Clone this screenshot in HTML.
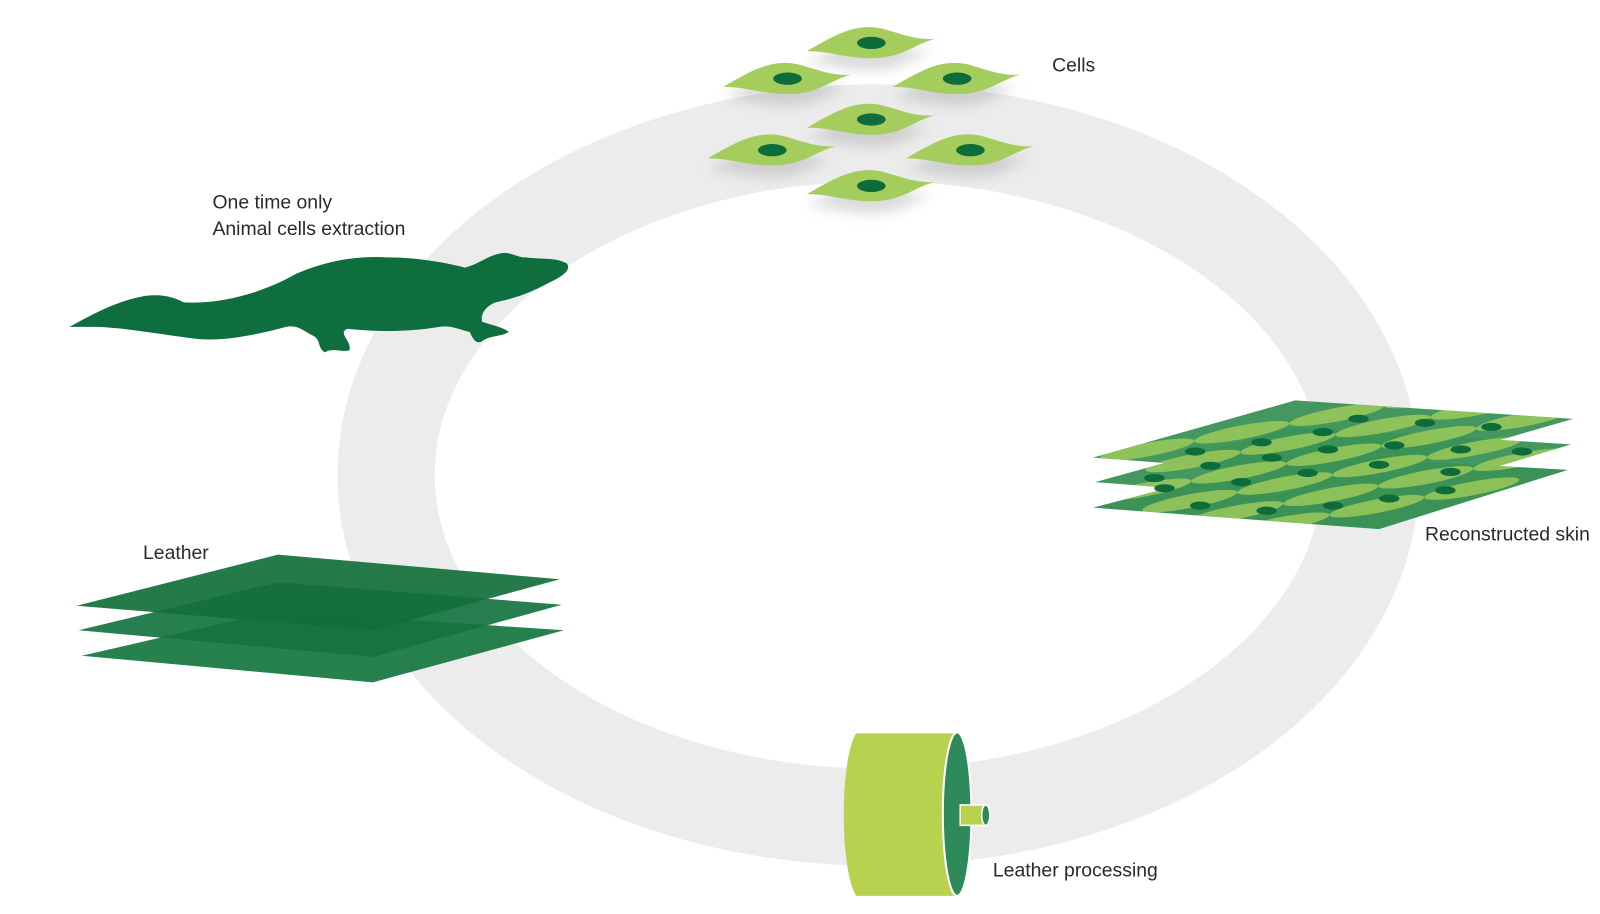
<!DOCTYPE html>
<html><head><meta charset="utf-8"><style>
body{margin:0;background:#fff;width:1600px;height:909px;overflow:hidden}
svg text{font-family:"Liberation Sans",sans-serif;font-size:19px;fill:#2a2a2a}
</style></head><body>
<svg width="1600" height="909" viewBox="0 0 1600 909">
<defs>
<filter id="sh" x="-50%" y="-50%" width="200%" height="250%"><feGaussianBlur stdDeviation="6"/></filter>
<clipPath id="sk"><path d="M1070,448 L1268,392 L1540,410 L1340,468 Z M1072,472 L1268,418 L1538,435 L1345,493 Z M1070,497 L1270,445 L1535,460 L1350,518 Z"/></clipPath>
</defs>
<g transform="scale(1.0215)">
<ellipse cx="860" cy="465" rx="482" ry="335" fill="none" stroke="#ececec" stroke-width="95"/>
<g>
<g transform="translate(853,42)"><path d="M-63,8 C-40,-5 -20,-18 5,-15 C20,-13 40,-2 62,-4 C40,2 30,15 0,15 C-25,15 -40,8 -63,8 Z" fill="#999" opacity=".35" filter="url(#sh)" transform="translate(0,12)"/><path d="M-63,8 C-40,-5 -20,-18 5,-15 C20,-13 40,-2 62,-4 C40,2 30,15 0,15 C-25,15 -40,8 -63,8 Z" fill="#a5cd5e"/><ellipse rx="14" ry="6" fill="#0e6b3a"/></g>
<g transform="translate(771,77)"><path d="M-63,8 C-40,-5 -20,-18 5,-15 C20,-13 40,-2 62,-4 C40,2 30,15 0,15 C-25,15 -40,8 -63,8 Z" fill="#999" opacity=".35" filter="url(#sh)" transform="translate(0,12)"/><path d="M-63,8 C-40,-5 -20,-18 5,-15 C20,-13 40,-2 62,-4 C40,2 30,15 0,15 C-25,15 -40,8 -63,8 Z" fill="#a5cd5e"/><ellipse rx="14" ry="6" fill="#0e6b3a"/></g>
<g transform="translate(937,77)"><path d="M-63,8 C-40,-5 -20,-18 5,-15 C20,-13 40,-2 62,-4 C40,2 30,15 0,15 C-25,15 -40,8 -63,8 Z" fill="#999" opacity=".35" filter="url(#sh)" transform="translate(0,12)"/><path d="M-63,8 C-40,-5 -20,-18 5,-15 C20,-13 40,-2 62,-4 C40,2 30,15 0,15 C-25,15 -40,8 -63,8 Z" fill="#a5cd5e"/><ellipse rx="14" ry="6" fill="#0e6b3a"/></g>
<g transform="translate(853,117)"><path d="M-63,8 C-40,-5 -20,-18 5,-15 C20,-13 40,-2 62,-4 C40,2 30,15 0,15 C-25,15 -40,8 -63,8 Z" fill="#999" opacity=".35" filter="url(#sh)" transform="translate(0,12)"/><path d="M-63,8 C-40,-5 -20,-18 5,-15 C20,-13 40,-2 62,-4 C40,2 30,15 0,15 C-25,15 -40,8 -63,8 Z" fill="#a5cd5e"/><ellipse rx="14" ry="6" fill="#0e6b3a"/></g>
<g transform="translate(756,147)"><path d="M-63,8 C-40,-5 -20,-18 5,-15 C20,-13 40,-2 62,-4 C40,2 30,15 0,15 C-25,15 -40,8 -63,8 Z" fill="#999" opacity=".35" filter="url(#sh)" transform="translate(0,12)"/><path d="M-63,8 C-40,-5 -20,-18 5,-15 C20,-13 40,-2 62,-4 C40,2 30,15 0,15 C-25,15 -40,8 -63,8 Z" fill="#a5cd5e"/><ellipse rx="14" ry="6" fill="#0e6b3a"/></g>
<g transform="translate(950,147)"><path d="M-63,8 C-40,-5 -20,-18 5,-15 C20,-13 40,-2 62,-4 C40,2 30,15 0,15 C-25,15 -40,8 -63,8 Z" fill="#999" opacity=".35" filter="url(#sh)" transform="translate(0,12)"/><path d="M-63,8 C-40,-5 -20,-18 5,-15 C20,-13 40,-2 62,-4 C40,2 30,15 0,15 C-25,15 -40,8 -63,8 Z" fill="#a5cd5e"/><ellipse rx="14" ry="6" fill="#0e6b3a"/></g>
<g transform="translate(853,182)"><path d="M-63,8 C-40,-5 -20,-18 5,-15 C20,-13 40,-2 62,-4 C40,2 30,15 0,15 C-25,15 -40,8 -63,8 Z" fill="#999" opacity=".35" filter="url(#sh)" transform="translate(0,12)"/><path d="M-63,8 C-40,-5 -20,-18 5,-15 C20,-13 40,-2 62,-4 C40,2 30,15 0,15 C-25,15 -40,8 -63,8 Z" fill="#a5cd5e"/><ellipse rx="14" ry="6" fill="#0e6b3a"/></g>
</g>
<path d="M68,320 C95,305 115,295 140,290 C160,287 172,292 180,296 C220,298 260,285 290,268 C320,255 350,250 380,252 C410,252 440,258 455,262 C470,258 478,250 490,248 C500,246 505,252 515,252 C530,254 545,252 555,258 C560,265 548,272 535,278 C520,286 505,292 485,296 C475,300 470,308 472,315 C480,318 492,320 498,325 C490,330 480,328 472,334 C466,338 462,330 460,325 C448,322 440,318 430,320 C400,325 370,325 340,322 C330,326 345,334 342,343 C335,345 325,340 318,345 C310,340 315,332 305,328 C295,322 290,318 280,320 C250,328 220,334 195,332 C160,328 120,320 90,320 Z" fill="#0f6e3e"/>
<path d="M80,642 L270,598 L552,617 L365,668 Z" fill="#1a7a44" opacity=".95"/>
<path d="M77,617 L272,570 L550,592 L365,643 Z" fill="#157340" opacity=".92"/>
<path d="M75,593 L272,543 L548,567 L365,617 Z" fill="#126f3b" opacity=".92"/>
<path d="M1070,497 L1270,445 L1535,460 L1350,518 Z" fill="#3a9256"/>
<path d="M1072,472 L1268,418 L1538,435 L1345,493 Z" fill="#3a9256" opacity=".95"/>
<path d="M1070,448 L1268,392 L1540,410 L1340,468 Z" fill="#3a9256" opacity=".95"/>
<g clip-path="url(#sk)" fill="#9cc95a" opacity=".85">
<g transform="translate(1305,455) skewX(-15) rotate(-11)">
<ellipse cx="-180" cy="-50" rx="45" ry="7"/><ellipse cx="-90" cy="-50" rx="45" ry="7"/><ellipse cx="0" cy="-50" rx="45" ry="7"/><ellipse cx="90" cy="-50" rx="45" ry="7"/><ellipse cx="180" cy="-50" rx="45" ry="7"/>
<ellipse cx="-135" cy="-30" rx="45" ry="7"/><ellipse cx="-45" cy="-30" rx="45" ry="7"/><ellipse cx="45" cy="-30" rx="45" ry="7"/><ellipse cx="135" cy="-30" rx="45" ry="7"/>
<ellipse cx="-180" cy="-10" rx="45" ry="7"/><ellipse cx="-90" cy="-10" rx="45" ry="7"/><ellipse cx="0" cy="-10" rx="45" ry="7"/><ellipse cx="90" cy="-10" rx="45" ry="7"/><ellipse cx="180" cy="-10" rx="45" ry="7"/>
<ellipse cx="-135" cy="10" rx="45" ry="7"/><ellipse cx="-45" cy="10" rx="45" ry="7"/><ellipse cx="45" cy="10" rx="45" ry="7"/><ellipse cx="135" cy="10" rx="45" ry="7"/>
<ellipse cx="-180" cy="30" rx="45" ry="7"/><ellipse cx="-90" cy="30" rx="45" ry="7"/><ellipse cx="0" cy="30" rx="45" ry="7"/><ellipse cx="90" cy="30" rx="45" ry="7"/><ellipse cx="180" cy="30" rx="45" ry="7"/>
<ellipse cx="-135" cy="50" rx="45" ry="7"/><ellipse cx="-45" cy="50" rx="45" ry="7"/><ellipse cx="45" cy="50" rx="45" ry="7"/><ellipse cx="135" cy="50" rx="45" ry="7"/>
</g>
</g>
<g fill="#0e6b3a">
<ellipse cx="1330" cy="410" rx="10" ry="4"/><ellipse cx="1395" cy="414" rx="10" ry="4"/><ellipse cx="1460" cy="418" rx="10" ry="4"/><ellipse cx="1295" cy="423" rx="10" ry="4"/><ellipse cx="1235" cy="433" rx="10" ry="4"/><ellipse cx="1170" cy="442" rx="10" ry="4"/>
<ellipse cx="1300" cy="440" rx="10" ry="4"/><ellipse cx="1365" cy="436" rx="10" ry="4"/><ellipse cx="1430" cy="440" rx="10" ry="4"/><ellipse cx="1490" cy="442" rx="10" ry="4"/><ellipse cx="1245" cy="448" rx="10" ry="4"/><ellipse cx="1185" cy="456" rx="10" ry="4"/><ellipse cx="1130" cy="468" rx="10" ry="4"/>
<ellipse cx="1280" cy="463" rx="10" ry="4"/><ellipse cx="1350" cy="455" rx="10" ry="4"/><ellipse cx="1420" cy="462" rx="10" ry="4"/><ellipse cx="1215" cy="472" rx="10" ry="4"/><ellipse cx="1140" cy="478" rx="10" ry="4"/>
<ellipse cx="1175" cy="495" rx="10" ry="4"/><ellipse cx="1240" cy="500" rx="10" ry="4"/><ellipse cx="1305" cy="495" rx="10" ry="4"/><ellipse cx="1360" cy="488" rx="10" ry="4"/><ellipse cx="1415" cy="480" rx="10" ry="4"/>
</g>
<path d="M838,718 L937,718 L937,877 L838,877 C822,850 822,745 838,718 Z" fill="#b8d14f"/>
<ellipse cx="937" cy="797" rx="14" ry="80" fill="#2e8a58" stroke="#fff" stroke-width="2"/>
<rect x="940" y="788" width="25" height="20" fill="#b8d14f" stroke="#fff" stroke-width="1.5"/>
<ellipse cx="965" cy="798" rx="4" ry="10" fill="#2e8a58" stroke="#fff" stroke-width="1.5"/>
<text x="1030" y="70">Cells</text>
<text x="208" y="204">One time only</text>
<text x="208" y="230">Animal cells extraction</text>
<text x="140" y="547">Leather</text>
<text x="1395" y="529">Reconstructed skin</text>
<text x="972" y="858">Leather processing</text>
</g>
</svg>
</body></html>
